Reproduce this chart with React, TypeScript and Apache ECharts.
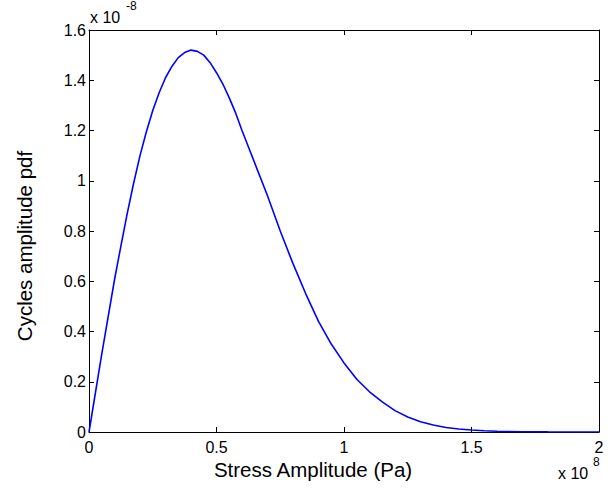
import React, { useEffect, useRef } from "react";
import * as echarts from "echarts";

// Stress amplitude, units of 1e8 Pa
const stressAmp: number[] = [
  0, 0.05, 0.1, 0.125, 0.15, 0.175, 0.2, 0.225, 0.25, 0.275, 0.3, 0.325, 0.35,
  0.375, 0.4, 0.425, 0.45, 0.475, 0.5, 0.525, 0.55, 0.575, 0.6, 0.625, 0.65, 0.7,
  0.75, 0.8, 0.85, 0.9, 0.95, 1.0, 1.05, 1.1, 1.15, 1.2, 1.25, 1.3, 1.35, 1.4,
  1.45, 1.5, 1.55, 1.6, 1.7, 1.8, 1.9, 2.0,
];
// Cycles amplitude pdf, units of 1e-8
const pdfValues: number[] = [
  0, 0.31, 0.606, 0.74, 0.87, 0.99, 1.1, 1.195, 1.28, 1.35, 1.41, 1.455, 1.49,
  1.51, 1.52, 1.515, 1.5, 1.47, 1.43, 1.385, 1.33, 1.27, 1.2, 1.135, 1.07, 0.94,
  0.8, 0.67, 0.55, 0.44, 0.35, 0.275, 0.21, 0.16, 0.12, 0.085, 0.06, 0.041,
  0.028, 0.018, 0.012, 0.008, 0.005, 0.003, 0.001, 0.0005, 0.0002, 0.0001,
];
const xTicks = { min: 0, max: 2, interval: 0.5 };
const yTicks = { min: 0, max: 1.6, interval: 0.2 };
const xLabel = "Stress Amplitude (Pa)";
const yLabel = "Cycles amplitude pdf";

const FONT = "'Liberation Sans', Arial, Helvetica, sans-serif";

export default function App() {
  const ref = useRef<HTMLDivElement>(null);
  useEffect(() => {
    if (!ref.current) return;
    const chart = echarts.init(ref.current, undefined, { renderer: "svg" });
    const fmt = (v: number) => String(Number(v.toFixed(2)));
    const axisLine = { show: true, onZero: false, lineStyle: { color: "#000", width: 1 } };
    const tick = { show: true, inside: true, length: 5, lineStyle: { color: "#000", width: 1 } };
    const label = { color: "#000", fontSize: 16, fontFamily: FONT };
    chart.setOption({
      animation: false,
      backgroundColor: "#fff",
      grid: { left: 89, top: 30, right: 11, bottom: 57, containLabel: false },
      xAxis: [
        {
          type: "value", position: "bottom", ...xTicks,
          axisLine, axisTick: tick, splitLine: { show: false },
          axisLabel: { ...label, margin: 7, formatter: fmt },
        },
        {
          type: "value", position: "top", ...xTicks,
          axisLine, axisTick: tick, splitLine: { show: false },
          axisLabel: { show: false },
        },
      ],
      yAxis: [
        {
          type: "value", position: "left", ...yTicks,
          axisLine, axisTick: tick, splitLine: { show: false },
          axisLabel: { ...label, margin: 3, formatter: fmt },
        },
        {
          type: "value", position: "right", ...yTicks,
          axisLine, axisTick: tick, splitLine: { show: false },
          axisLabel: { show: false },
        },
      ],
      series: [
        {
          type: "line",
          xAxisIndex: 0,
          yAxisIndex: 0,
          data: stressAmp.map((x, i) => [x, pdfValues[i]]),
          showSymbol: false,
          smooth: false,
          lineStyle: { color: "#0000ff", width: 1.6 },
          z: 1,
        },
      ],
      graphic: [
        {
          type: "text", x: 313, y: 469,
          style: { text: xLabel, font: `20.5px ${FONT}`, fill: "#000", align: "center", verticalAlign: "middle" },
        },
        {
          type: "text", x: 24, y: 246, rotation: Math.PI / 2,
          style: { text: yLabel, font: `20.5px ${FONT}`, fill: "#000", align: "center", verticalAlign: "middle" },
        },
        {
          type: "text", x: 90, y: 25,
          style: { text: "x 10", font: `16px ${FONT}`, fill: "#000", align: "left", verticalAlign: "bottom" },
        },
        {
          type: "text", x: 126, y: 12,
          style: { text: "-8", font: `12px ${FONT}`, fill: "#000", align: "left", verticalAlign: "bottom" },
        },
        {
          type: "text", x: 558, y: 481,
          style: { text: "x 10", font: `16px ${FONT}`, fill: "#000", align: "left", verticalAlign: "bottom" },
        },
        {
          type: "text", x: 593, y: 468,
          style: { text: "8", font: `12px ${FONT}`, fill: "#000", align: "left", verticalAlign: "bottom" },
        },
      ],
    });
    return () => chart.dispose();
  }, []);
  return (
    <div
      ref={ref}
      style={{ position: "fixed", left: 0, top: 0, width: 610, height: 489 }}
    />
  );
}
